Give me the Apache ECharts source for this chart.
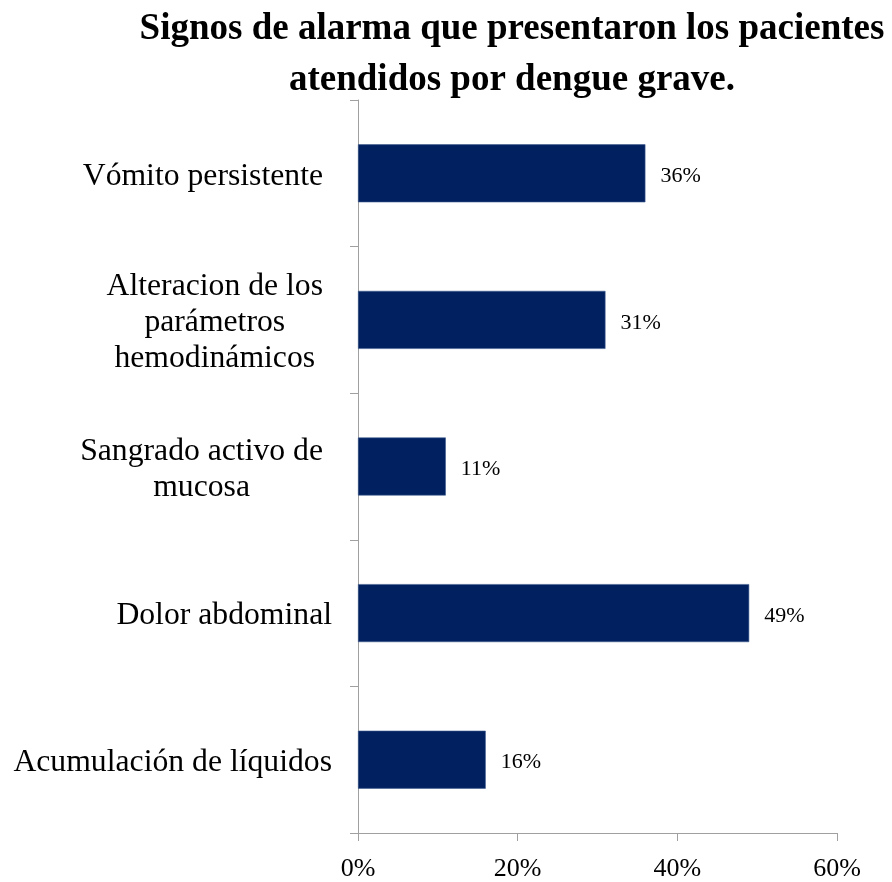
<!DOCTYPE html>
<html>
<head>
<meta charset="utf-8">
<script src="https://cdn.jsdelivr.net/npm/echarts@6/dist/echarts.min.js"></script>
<style>
html,body{margin:0;padding:0;background:#fff;}
#chart{width:892px;height:882px;}
</style>
</head>
<body>
<div id="chart"></div>
<script>
const titleText = 'Signos de alarma que presentaron los pacientes\natendidos por dengue grave.';
const categories = [
  'Vómito persistente',
  'Alteracion de los\nparámetros\nhemodinámicos',
  'Sangrado activo de\nmucosa',
  'Dolor abdominal',
  'Acumulación de líquidos'
];
const values = [36, 31, 11, 49, 16];
const xTicks = [0, 20, 40, 60];
const labelShift = [9, 9, 9, 0, 0];

const serif = '"Liberation Serif", "Times New Roman", serif';
const chart = echarts.init(document.getElementById('chart'), null, {renderer: 'canvas'});

chart.setOption({
  backgroundColor: '#ffffff',
  animation: false,
  title: {
    text: titleText,
    left: 512,
    top: 4,
    padding: 0,
    textAlign: 'center',
    textStyle: {
      fontFamily: serif,
      fontWeight: 'bold',
      fontSize: 37,
      lineHeight: 51,
      color: '#000000'
    }
  },
  grid: {left: 358, right: 55, top: 100, bottom: 47, containLabel: false},
  xAxis: {
    type: 'value',
    min: xTicks[0],
    max: xTicks[xTicks.length - 1],
    interval: xTicks[1] - xTicks[0],
    axisLine: {show: true, lineStyle: {color: '#A0A0A0', width: 1}},
    axisTick: {show: true, length: 8, lineStyle: {color: '#A0A0A0'}},
    splitLine: {show: false},
    axisLabel: {
      margin: 23,
      fontFamily: serif,
      fontSize: 26,
      color: '#000000',
      formatter: v => v + '%'
    }
  },
  yAxis: {
    type: 'category',
    inverse: true,
    data: categories.map((c, i) => ({value: c, textStyle: {padding: [6, labelShift[i], 0, 0]}})),
    axisLine: {show: true, lineStyle: {color: '#A0A0A0', width: 1}},
    axisTick: {show: true, length: 8, lineStyle: {color: '#A0A0A0'}},
    axisLabel: {
      margin: 26,
      fontFamily: serif,
      fontSize: 31.7,
      lineHeight: 36,
      color: '#000000',
      align: 'right',
      formatter: v => v.split('\n').map(l => '{c|' + l + '}').join('\n'),
      rich: {
        c: {align: 'center', fontFamily: serif, fontSize: 31.7, lineHeight: 36, color: '#000000'}
      }
    }
  },
  series: [{
    type: 'bar',
    data: values,
    barWidth: 58,
    itemStyle: {color: '#002060', borderColor: '#3E5C8F', borderWidth: 0.6},
    label: {
      show: true,
      position: 'right',
      distance: 15,
      offset: [0, 3],
      fontFamily: serif,
      fontSize: 22,
      color: '#000000',
      formatter: p => p.value + '%'
    }
  }]
});
</script>
</body>
</html>
